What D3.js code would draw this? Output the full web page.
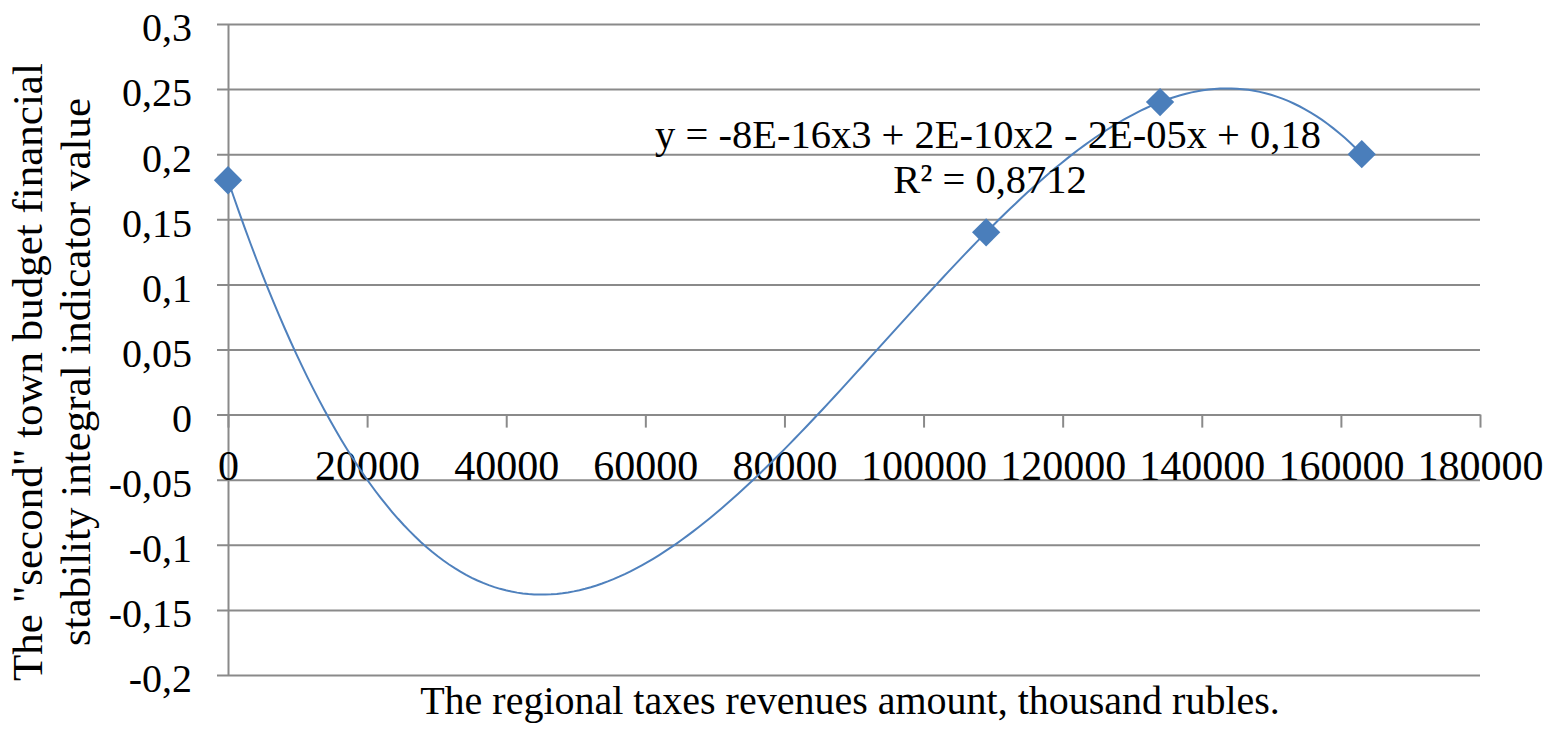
<!DOCTYPE html>
<html>
<head>
<meta charset="utf-8">
<script src="https://cdn.jsdelivr.net/npm/d3@7"></script>
<style>
  html, body { margin: 0; padding: 0; background: #fff; }
  svg { display: block; }
  text { font-family: "Liberation Serif", "Times New Roman", serif; fill: #000; }
</style>
</head>
<body>
<svg id="chart" width="1559" height="730"></svg>
<script>
// ---- data ----
const revenues = [0, 109000, 134000, 163000];          // thousand rubles
const indicator = [0.18, 0.14, 0.24, 0.2];             // integral indicator value
const xTicks = [0, 20000, 40000, 60000, 80000, 100000, 120000, 140000, 160000, 180000];
const yTicks = [-0.2, -0.15, -0.1, -0.05, 0, 0.05, 0.1, 0.15, 0.2, 0.25, 0.3];
const yTickLabels = ["-0,2", "-0,15", "-0,1", "-0,05", "0", "0,05", "0,1", "0,15", "0,2", "0,25", "0,3"];
const equationText = "y = -8E-16x3 + 2E-10x2 - 2E-05x + 0,18";
const r2Text = "R\u00B2 = 0,8712";
const xTitle = "The regional taxes revenues amount, thousand rubles.";
const yTitleLines = ["The \"second\" town budget financial", "stability integral indicator value"];

// ---- layout ----
const plotL = 228, plotR = 1480, plotT = 24, plotB = 675;
const svg = d3.select("#chart");
const x = d3.scaleLinear().domain([0, 180000]).range([plotL, plotR]);
const y = d3.scaleLinear().domain([-0.2, 0.3]).range([plotB, plotT]);
const gridColor = "#8a8a8a";

// horizontal gridlines with left outward ticks
const yAxis = d3.axisLeft(y).tickValues(yTicks).tickSize(-(plotR - plotL)).tickSizeOuter(0)
  .tickFormat((d, i) => yTickLabels[i]);
const gy = svg.append("g").attr("transform", `translate(${plotL},0)`).call(yAxis);
gy.select(".domain").attr("stroke", gridColor).attr("stroke-width", 2);
gy.selectAll(".tick line").attr("stroke", gridColor).attr("stroke-width", 2).attr("x1", -11);
gy.selectAll(".tick text").attr("x", -36).attr("dy", "0.42em")
  .style("font-family", "'Liberation Serif', serif").style("font-size", "40px");

// x axis at y = 0
const xAxis = d3.axisBottom(x).tickValues(xTicks).tickSize(13).tickSizeOuter(0).tickFormat(d3.format("d"));
const gx = svg.append("g").attr("transform", `translate(0,${y(0)})`).call(xAxis);
gx.select(".domain").attr("stroke", gridColor).attr("stroke-width", 2);
gx.selectAll(".tick line").attr("stroke", gridColor).attr("stroke-width", 2);
gx.selectAll(".tick text").attr("y", 65).attr("dy", 0)
  .style("font-family", "'Liberation Serif', serif").style("font-size", "42px");

// ---- polynomial (order 3) trendline fitted to the data by least squares ----
function polyFit(xs, ys, order) {
  const n = order + 1, s = 1000; // scale x to thousands for conditioning
  const A = Array.from({length: n}, () => new Array(n + 1).fill(0));
  xs.forEach((xv, k) => {
    const t = xv / s;
    for (let i = 0; i < n; i++) {
      for (let j = 0; j < n; j++) A[i][j] += Math.pow(t, i + j);
      A[i][n] += ys[k] * Math.pow(t, i);
    }
  });
  for (let c = 0; c < n; c++) {
    let p = c;
    for (let r = c + 1; r < n; r++) if (Math.abs(A[r][c]) > Math.abs(A[p][c])) p = r;
    [A[c], A[p]] = [A[p], A[c]];
    for (let r = 0; r < n; r++) {
      if (r === c) continue;
      const f = A[r][c] / A[c][c];
      for (let k = c; k <= n; k++) A[r][k] -= f * A[c][k];
    }
  }
  const coef = A.map((row, i) => row[n] / row[i]);
  return xv => coef.reduce((acc, cf, i) => acc + cf * Math.pow(xv / s, i), 0);
}
const trend = polyFit(revenues, indicator, 3);
const xMin = d3.min(revenues), xMax = d3.max(revenues);
const trendPts = d3.range(0, 201).map(i => {
  const xv = xMin + (xMax - xMin) * i / 200;
  return [xv, trend(xv)];
});
svg.append("path")
  .datum(trendPts)
  .attr("fill", "none")
  .attr("stroke", "#4f81bd")
  .attr("stroke-width", 2)
  .attr("d", d3.line().x(d => x(d[0])).y(d => y(d[1])).curve(d3.curveLinear));

// markers (diamonds)
svg.append("g").selectAll("path")
  .data(revenues.map((r, i) => [r, indicator[i]]))
  .join("path")
  .attr("d", d3.symbol().type(d3.symbolSquare).size(400))
  .attr("transform", d => `translate(${x(d[0])},${y(d[1])}) rotate(45)`)
  .attr("fill", "#4a7ebb");

// equation labels
svg.append("text").attr("x", 988).attr("y", 148).attr("text-anchor", "middle")
  .style("font-size", "40.5px").text(equationText);
svg.append("text").attr("x", 990).attr("y", 193).attr("text-anchor", "middle")
  .style("font-size", "40.5px").text(r2Text);

// axis titles
svg.append("text").attr("x", (plotL + plotR) / 2 - 4).attr("y", 714).attr("text-anchor", "middle")
  .style("font-size", "40px").text(xTitle);
const yt = svg.append("text").attr("transform", "translate(0,372) rotate(-90)").attr("text-anchor", "middle")
  .style("font-size", "43px");
yTitleLines.forEach((ln, i) => yt.append("tspan").attr("x", 0).attr("y", i === 0 ? 42 : 90).text(ln));
</script>
</body>
</html>
